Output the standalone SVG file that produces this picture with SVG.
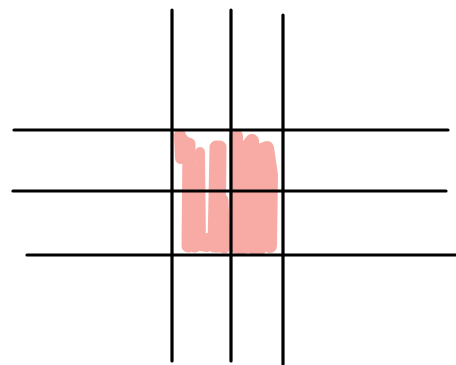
<svg xmlns="http://www.w3.org/2000/svg" width="456" height="365" viewBox="0 0 456 365">
<style>
.ln{stroke:#000;stroke-width:3.2;stroke-linecap:round;fill:none}
.sc{stroke:#F7ABA4;stroke-linecap:round;stroke-linejoin:round;fill:none}
</style>
<rect width="456" height="365" fill="#fff"/>
<g id="scribble">
<path class="sc" stroke-width="12" d="M180,135 L181,158 M183,140 L188,150"/>
<path class="sc" stroke-width="13" d="M189,144 L188,246 M194,170 L195,246"/>
<path class="sc" stroke-width="10" d="M200,152 L201,246 L207,247 L208,238"/>
<path class="sc" stroke-width="13" d="M216,148 L214,246 L219,246 L220,148 M220,147 L216,147 M222,200 L224,247"/>
<path class="sc" stroke-width="14" d="M236,136 L237,247 L244,247 L245,150 L252,141 L254,248 L260,248 L262,150 L267,148 L271,175 L270,246"/>
<path class="sc" stroke-width="10" d="M243,150 L243,245 M258,150 L258,248 M262,175 L263,247 M249,160 L249,248"/>
</g>
<g id="grid">
<line class="ln" x1="172" y1="10" x2="172" y2="361"/>
<line class="ln" x1="231" y1="10" x2="231" y2="361" stroke-width="3.6"/>
<line class="ln" x1="283" y1="15" x2="283" y2="364"/>
<line class="ln" x1="14" y1="130" x2="448" y2="130"/>
<line class="ln" x1="13" y1="191" x2="446" y2="191"/>
<line class="ln" x1="27" y1="255" x2="456" y2="255"/>
</g>
</svg>
